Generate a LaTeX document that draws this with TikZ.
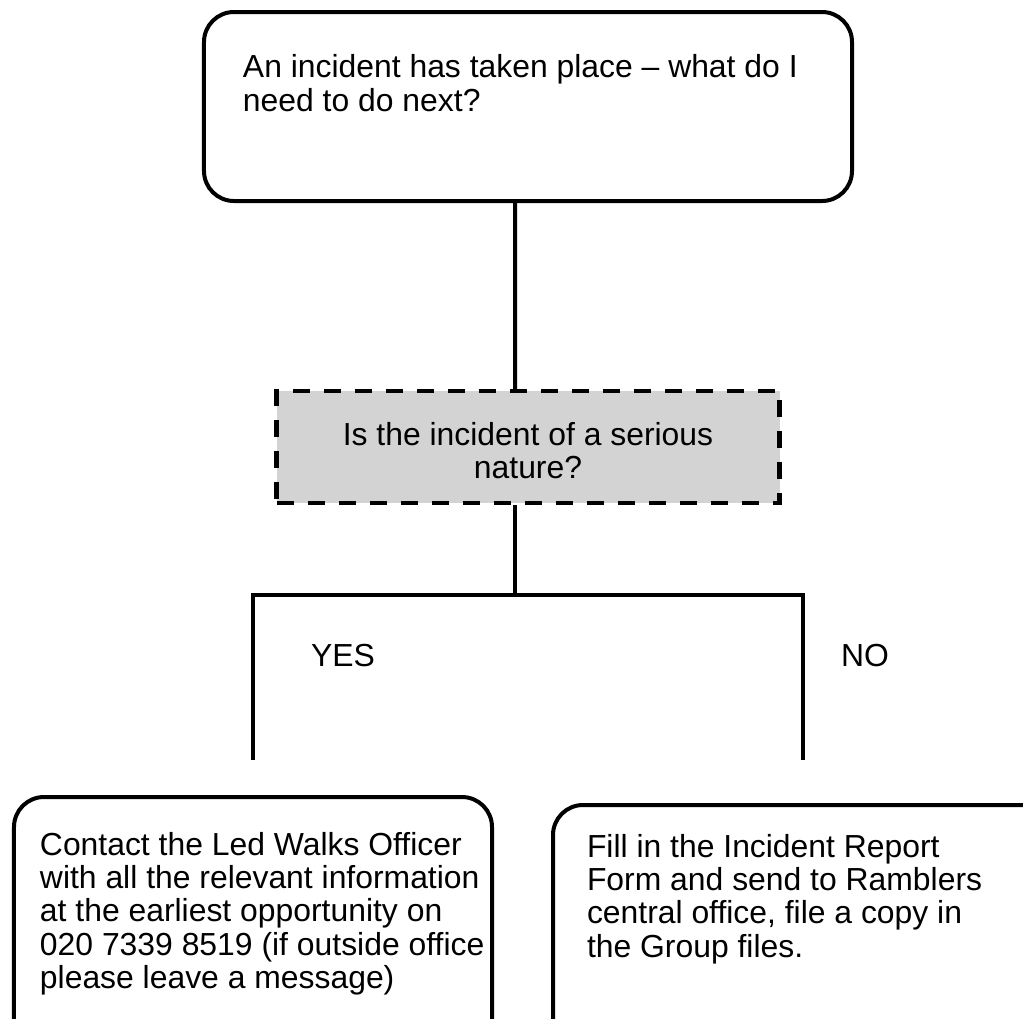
\documentclass[tikz,border=0pt]{standalone}
\usepackage{fontspec}
\setmainfont{Liberation Sans}
\usepackage{xcolor}
\usepackage{tikz}
\usetikzlibrary{trees}
\definecolor{questiongray}{RGB}{211,211,211}

\begin{document}
\begin{tikzpicture}
  [x=1bp,y=1bp,line width=4bp,every node/.style={font=\fontsize{32}{33.5}\selectfont,inner sep=0pt},
   stepbox/.style={rectangle,draw,rounded corners=30bp,align=flush left,execute at begin node={\spaceskip=0pt\leftskip=#1}},
   questionbox/.style={rectangle,draw,fill=questiongray,line width=4.5bp,dash pattern=on 17bp off 14bp,align=flush center,text width=503bp,execute at begin node={\spaceskip=0pt}}]
\tikzset{%
level 1/.style={level distance=340.5bp,edge from parent path={([xshift=-13bp]\tikzparentnode.south) -- ([xshift=-13bp]\tikzchildnode.north)}},
level 2/.style={sibling distance=550bp,level distance=480bp,edge from parent path={([xshift=-13bp]\tikzparentnode.south) -- ++(0,-90) -| (\tikzchildnode.north |- 0,167)}}
}
\path[use as bounding box,clip] (0,0) rectangle (1023,-1019);
  \node[stepbox=39bp,font=\fontsize{32}{35}\selectfont,text width=648bp,text height=65bp,text depth=124bp] (start) at (528,-106.5) {An incident has taken place – what do I\\need to do next?}
    child {node[questionbox,text height=54bp,text depth=58bp] (question) {Is the incident of a serious\\nature?}
      child {node[stepbox=26bp,text width=478bp,text height=58bp,text depth=202bp] (contact) {Contact the Led Walks Officer\\with all the relevant information\\at the earliest opportunity on\\020 7339 8519 (if outside office\\please leave a message)}}
      child {node[stepbox=34bp,text width=500bp,text height=52bp,text depth=192bp] (report) {Fill in the Incident Report\\Form and send to Ramblers\\central office, file a copy in\\the Group files.}}};
\node at (question) [xshift=-185bp,yshift=-209bp] (yeslabel) {YES};
\node at (question) [xshift=337bp,yshift=-209bp] (nolabel) {NO};
\end{tikzpicture}
\end{document}
